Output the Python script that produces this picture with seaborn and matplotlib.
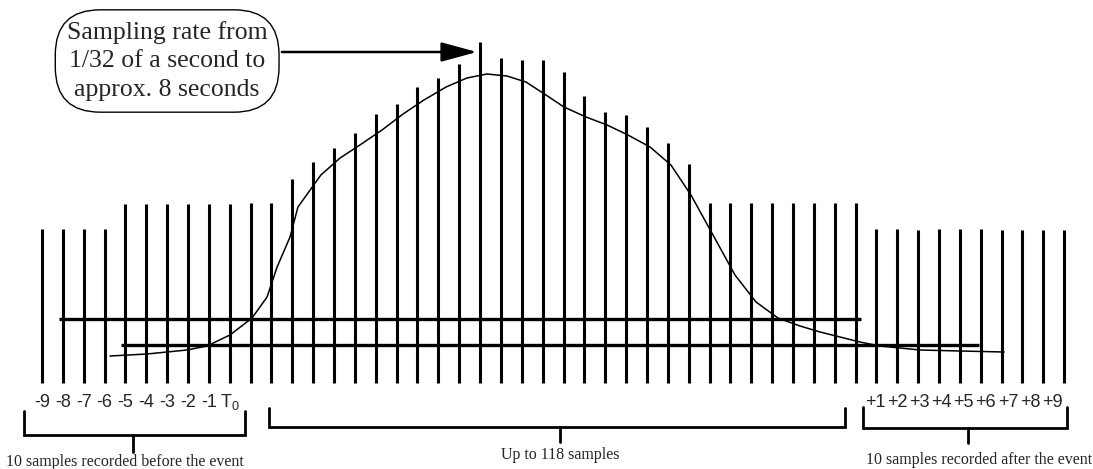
import numpy as np
import pandas as pd
import matplotlib
matplotlib.use("Agg")
import matplotlib.pyplot as plt
import seaborn as sns

# sample sticks: heights (baseline = 0)
pre_heights = [154, 154, 154, 154, 179, 179, 179, 179, 179, 179]
mid_heights = [180, 180, 204, 221, 235, 250, 269, 279, 296, 305,
               319, 341, 325, 323, 323, 311, 287, 271, 268, 256,
               240, 219, 180, 180, 180, 180, 180, 180, 180, 180]
post_heights = [154, 154, 153, 154, 154, 154, 153, 153, 153, 153]

pre_labels = ["-9", "-8", "-7", "-6", "-5", "-4", "-3", "-2", "-1", r"$\mathregular{T_0}$"]
post_labels = ["+1", "+2", "+3", "+4", "+5", "+6", "+7", "+8", "+9"]

# signal curve (x in sample index, y in stick units)
curve_x = [3.26, 5.03, 6.95, 7.91, 9.01, 10.07, 10.79, 11.27, 11.89, 12.27,
           13.37, 14.29, 15.24, 16.30, 17.31, 18.31, 19.37, 20.37, 21.33, 22.29,
           23.20, 24.16, 25.02, 26.08, 27.09, 28.09, 29.15, 30.15, 31.11, 32.22,
           33.22, 34.23, 35.28, 36.34, 37.30, 39.21, 40.17, 42.09, 44.0, 46.12]
curve_y = [27, 29, 33, 37, 48, 65, 86, 116, 146, 176,
           208, 225, 238, 253, 269, 283, 296, 305, 309, 307,
           301, 288, 276, 266, 258, 248, 236, 218, 188, 146,
           108, 81, 65, 57, 51, 41, 37, 33, 32, 31]

# the two thick threshold lines: (level, start, end)
thresholds = [(64, 0.8, 39.26), (38, 3.8, 44.9)]

heights = pre_heights + mid_heights + post_heights
samples = pd.DataFrame({"idx": np.arange(len(heights)), "height": heights})
curve = pd.DataFrame({"x": curve_x, "y": curve_y})

sns.set_style("white")
plt.rcParams["mathtext.fontset"] = "custom"
plt.rcParams["mathtext.rm"] = "Liberation Sans"

fig = plt.figure(figsize=(10.93, 4.69), dpi=100)
ax = fig.add_axes([0, 0, 1, 1])

ax.vlines(samples["idx"], 0, samples["height"], color="black", lw=2.2)
for lvl, x0, x1 in thresholds:
    ax.hlines(lvl, x0, x1, color="black", lw=2.4)
sns.lineplot(data=curve, x="x", y="y", sort=False, color="black", lw=1.1, ax=ax)

# tick labels under the sticks
for i, lab in enumerate(pre_labels):
    ax.text(i, -19, lab, ha="center", va="center", fontsize=13, family="Liberation Sans")
for k, lab in enumerate(post_labels):
    ax.text(39.95 + k * 1.06, -19, lab, ha="center", va="center", fontsize=13,
            family="Liberation Sans")

# brackets
def bracket(x0, x1, top, bar, xt, tick, label, tx, ty):
    ax.plot([x0, x0, x1, x1], [top, bar, bar, top], color="black", lw=2.0,
            solid_joinstyle="miter")
    ax.plot([xt, xt], [bar, tick], color="black", lw=2.0)
    ax.text(tx, ty, label, ha="center", va="center", fontsize=11.5, family="Liberation Serif")

bracket(-0.86, 9.73, -28, -52, 4.36, -69, "10 samples recorded before the event", 3.95, -79)
bracket(10.88, 38.49, -25, -44, 24.83, -59, "Up to 118 samples", 24.83, -72)
bracket(39.36, 49.14, -24, -45, 44.39, -60, "10 samples recorded after the event", 44.9, -77)

# callout
ax.annotate("", xy=(20.85, 331), xytext=(11.5, 331),
            arrowprops=dict(arrowstyle="-|>,head_length=1.1,head_width=0.3",
                            mutation_scale=20, color="black", lw=1.8,
                            shrinkA=0, shrinkB=0))
ax.text(6.0, 322, "Sampling rate from\n1/32 of a second to\napprox. 8 seconds",
        ha="center", va="center", fontsize=18.5, family="Liberation Serif", linespacing=1.36,
        bbox=dict(boxstyle="round,pad=0.45,rounding_size=1.75", fc="white", ec="black", lw=1.0))

ax.set_xlim(-42 / 20.86, (1093 - 42) / 20.86)
ax.set_ylim(-86, 383)
ax.axis("off")

fig.savefig("out.png", dpi=100)
